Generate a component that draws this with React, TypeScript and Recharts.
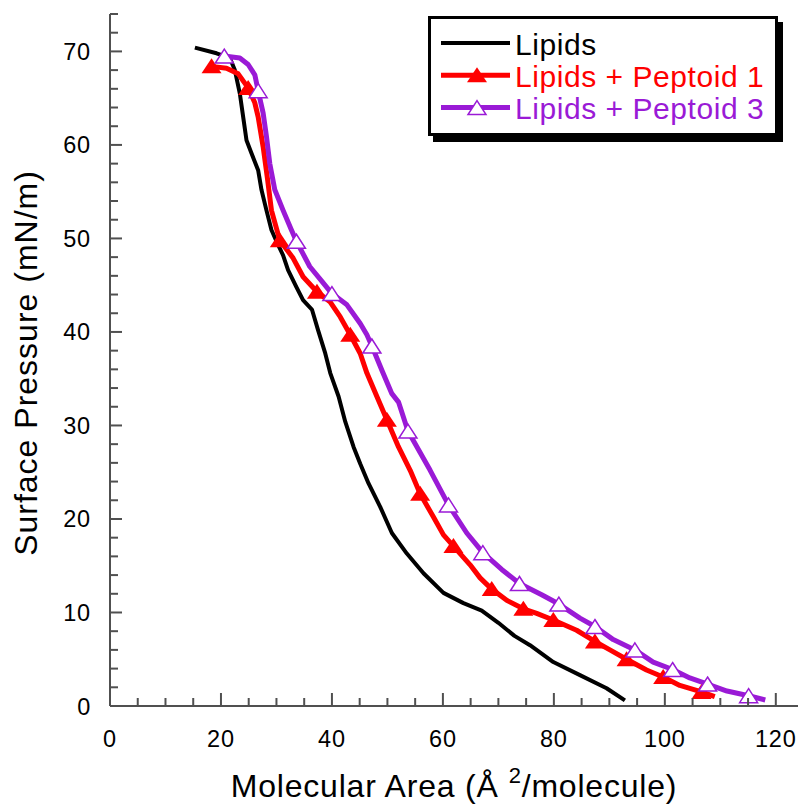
import React from 'react';
import { ComposedChart, Line, Scatter, XAxis, YAxis, Legend } from 'recharts';

const lipidsArea = [15.3, 19.2, 21.6, 22.5, 23.4, 24.0, 24.6, 25.5, 26.7, 27.3, 28.2, 29.1, 30.3, 31.2, 32.1, 33.6, 34.8, 36.4, 37.5, 38.8, 39.7, 41.2, 42.4, 43.9, 45.1, 46.6, 48.7, 50.8, 53.5, 56.5, 60.1, 63.7, 67.0, 70.0, 72.9, 75.7, 79.9, 84.7, 89.5, 92.8];
const lipidsPressure = [70.4, 69.8, 69.3, 68.0, 65.5, 63.0, 60.5, 59.1, 57.3, 55.2, 53.0, 50.9, 49.3, 48.2, 46.6, 44.8, 43.4, 42.4, 40.2, 37.7, 35.6, 33.1, 30.4, 27.7, 25.9, 23.8, 21.3, 18.5, 16.3, 14.2, 12.1, 11.0, 10.2, 8.9, 7.5, 6.5, 4.7, 3.3, 1.9, 0.6];

const pep1Area = [18.3, 21.0, 23.1, 24.9, 26.1, 26.7, 27.6, 28.4, 29.1, 30.6, 33.0, 34.8, 37.3, 39.7, 41.5, 43.3, 45.1, 46.3, 48.1, 49.9, 52.0, 54.1, 55.9, 58.3, 60.1, 61.9, 64.9, 66.7, 68.8, 71.5, 74.5, 76.9, 79.9, 84.1, 87.4, 90.1, 93.1, 96.7, 99.7, 102.7, 106.6, 109.0];
const pep1Pressure = [68.4, 68.2, 67.6, 66.1, 64.5, 63.0, 59.8, 56.3, 53.0, 49.8, 47.9, 45.9, 44.3, 43.2, 41.6, 39.7, 37.7, 35.6, 33.1, 30.6, 27.7, 25.2, 22.7, 20.2, 18.3, 17.1, 15.1, 13.7, 12.5, 11.3, 10.4, 9.9, 9.2, 8.1, 6.9, 6.0, 5.0, 3.85, 3.1, 2.2, 1.5, 1.0];
const pep1MarkerArea = [18.3, 24.9, 30.6, 37.3, 43.3, 49.9, 55.9, 61.9, 68.8, 74.5, 79.9, 87.4, 93.1, 99.7, 106.6];
const pep1MarkerPressure = [68.4, 66.1, 49.8, 44.3, 39.7, 30.6, 22.7, 17.1, 12.5, 10.4, 9.2, 6.9, 5.0, 3.1, 1.5];

const pep3Area = [20.6, 23.4, 24.9, 26.1, 26.7, 27.6, 28.2, 28.8, 29.7, 31.2, 32.7, 33.6, 36.0, 38.2, 40.0, 42.7, 45.1, 46.3, 47.2, 49.0, 50.8, 52.0, 53.7, 57.7, 61.0, 64.3, 67.2, 70.6, 73.8, 77.8, 80.9, 84.7, 87.4, 90.7, 94.6, 97.9, 101.4, 104.5, 107.7, 111.2, 115.1, 118.1];
const pep3Pressure = [69.5, 69.3, 68.6, 67.5, 65.8, 63.4, 60.9, 58.0, 55.2, 53.0, 50.9, 49.7, 47.0, 45.4, 44.1, 42.9, 40.9, 39.7, 38.5, 35.9, 33.4, 32.5, 29.4, 25.2, 21.5, 18.5, 16.4, 14.6, 13.1, 11.9, 10.9, 9.4, 8.5, 7.1, 6.0, 4.7, 3.9, 3.0, 2.35, 1.6, 1.1, 0.64];
const pep3MarkerArea = [20.6, 26.7, 33.6, 40.0, 47.2, 53.7, 61.0, 67.2, 73.8, 80.9, 87.4, 94.6, 101.4, 107.7, 115.1];
const pep3MarkerPressure = [69.5, 65.8, 49.7, 44.1, 38.5, 29.4, 21.5, 16.4, 13.1, 10.9, 8.5, 6.0, 3.9, 2.35, 1.1];

const xTicks = [0, 5, 10, 15, 20, 25, 30, 35, 40, 45, 50, 55, 60, 65, 70, 75, 80, 85, 90, 95, 100, 105, 110, 115, 120];
const yTicks = [0, 2, 4, 6, 8, 10, 12, 14, 16, 18, 20, 22, 24, 26, 28, 30, 32, 34, 36, 38, 40, 42, 44, 46, 48, 50, 52, 54, 56, 58, 60, 62, 64, 66, 68, 70, 72, 74];

const seriesNames = ['Lipids', 'Lipids + Peptoid 1', 'Lipids + Peptoid 3'];

const toPoints = (xs: number[], ys: number[]) => xs.map((x, i) => ({ x, y: ys[i] }));

const lipids = toPoints(lipidsArea, lipidsPressure);
const pep1 = toPoints(pep1Area, pep1Pressure);
const pep1Markers = toPoints(pep1MarkerArea, pep1MarkerPressure);
const pep3 = toPoints(pep3Area, pep3Pressure);
const pep3Markers = toPoints(pep3MarkerArea, pep3MarkerPressure);

const FONT = '"Liberation Sans", Arial, sans-serif';
const AXIS = '#505050';
const RED = '#ff0000';
const PURPLE = '#9a1ad6';

function XTick({ x, y, payload }: any) {
  const major = payload.value % 20 === 0;
  return (
    <g>
      <line x1={x} x2={x} y1={y} y2={y - (major ? 13 : 8)} stroke={AXIS} strokeWidth={2} />
      {major && (
        <text x={x} y={y + 41} textAnchor="middle" fontSize={23.5} letterSpacing={0.8} fontFamily={FONT} fill="#000">
          {payload.value}
        </text>
      )}
    </g>
  );
}

function YTick({ x, y, payload }: any) {
  const major = payload.value % 10 === 0;
  return (
    <g>
      <line x1={x} x2={x + (major ? 12 : 8)} y1={y} y2={y} stroke={AXIS} strokeWidth={2} />
      {major && (
        <text x={x - 19} y={y + 8.5} textAnchor="end" fontSize={23.5} letterSpacing={0.8} fontFamily={FONT} fill="#000">
          {payload.value}
        </text>
      )}
    </g>
  );
}

function RedTriangle({ cx, cy }: any) {
  return <path d={`M${cx},${cy - 8} L${cx + 10},${cy + 7} L${cx - 10},${cy + 7} Z`} fill={RED} />;
}

function PurpleTriangle({ cx, cy }: any) {
  return <path d={`M${cx},${cy - 7} L${cx + 9},${cy + 7} L${cx - 9},${cy + 7} Z`} fill="#fff" stroke={PURPLE} strokeWidth={1.5} />;
}

function LegendBox() {
  const colors = ['#000', RED, PURPLE];
  return (
    <div style={{ width: 344, height: 114, border: '3px solid #000', background: '#fff', boxShadow: '5px 6px 0 #000' }}>
      <svg width={344} height={114}>
        {seriesNames.map((name, i) => {
          const ly = 24 + i * 32.3;
          return (
            <g key={name}>
              <line x1={10} x2={79} y1={ly} y2={ly} stroke={colors[i]} strokeWidth={i === 0 ? 4 : 5} />
              {i === 1 && <RedTriangle cx={46} cy={ly} />}
              {i === 2 && <PurpleTriangle cx={46} cy={ly} />}
              <text x={84} y={ly + 11.5} fontSize={30} letterSpacing={0.55} fontFamily={FONT} fill={colors[i]}>
                {name}
              </text>
            </g>
          );
        })}
      </svg>
    </div>
  );
}

export default function App() {
  return (
    <div style={{ position: 'absolute', left: 0, top: 0, background: '#fff' }}>
      <ComposedChart width={799} height={805} margin={{ top: 14, right: 1, bottom: 39, left: 50 }}>
        <XAxis
          type="number"
          dataKey="x"
          domain={[0, 124]}
          ticks={xTicks}
          interval={0}
          tickSize={0}
          tickMargin={0}
          height={60}
          tick={<XTick />}
          tickLine={false}
          axisLine={{ stroke: AXIS, strokeWidth: 2 }}
          allowDataOverflow
          label={{
            content: () => (
              <text x={454} y={797} textAnchor="middle" fontSize={32} letterSpacing={0.8} fontFamily={FONT} fill="#000">
                Molecular Area (Å
                <tspan dx={10} dy={-14} fontSize={22}>2</tspan>
                <tspan dy={14}>/molecule)</tspan>
              </text>
            ),
          }}
        />
        <YAxis
          type="number"
          dataKey="y"
          domain={[0, 74]}
          ticks={yTicks}
          interval={0}
          tickSize={0}
          tickMargin={0}
          width={60}
          tick={<YTick />}
          tickLine={false}
          axisLine={{ stroke: AXIS, strokeWidth: 2 }}
          allowDataOverflow
          label={{
            content: () => (
              <text
                x={37}
                y={363}
                transform="rotate(-90 37 363)"
                textAnchor="middle"
                fontSize={32}
                letterSpacing={1}
                fontFamily={FONT}
                fill="#000"
              >
                Surface Pressure (mN/m)
              </text>
            ),
          }}
        />
        <Legend
          layout="horizontal"
          verticalAlign="middle"
          align="center"
          wrapperStyle={{ position: 'absolute', left: 428, top: 16, width: 356 }}
          content={() => <LegendBox />}
        />
        <Line data={lipids} dataKey="y" type="linear" stroke="#000" strokeWidth={4} dot={false} isAnimationActive={false} strokeLinejoin="round" name={seriesNames[0]} />
        <Line data={pep1} dataKey="y" type="linear" stroke={RED} strokeWidth={5} dot={false} isAnimationActive={false} strokeLinejoin="round" name={seriesNames[1]} />
        <Scatter data={pep1Markers} dataKey="y" shape={<RedTriangle />} isAnimationActive={false} legendType="none" />
        <Line data={pep3} dataKey="y" type="linear" stroke={PURPLE} strokeWidth={5} dot={false} isAnimationActive={false} strokeLinejoin="round" name={seriesNames[2]} />
        <Scatter data={pep3Markers} dataKey="y" shape={<PurpleTriangle />} isAnimationActive={false} legendType="none" />
      </ComposedChart>
    </div>
  );
}
